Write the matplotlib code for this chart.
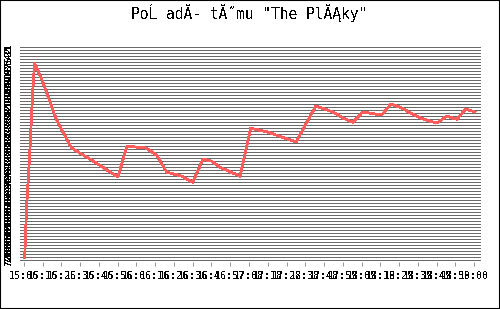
import matplotlib
matplotlib.use("Agg")
import matplotlib.pyplot as plt
from matplotlib.patches import Rectangle

# Pořadí týmu v čase (x v jednotkách popisků osy, y = pořadí)
t_pos = [0.04, 0.14, 0.32, 0.46, 0.57, 1.01, 1.74, 2.54, 3.34, 4.21,
         5.01, 5.49, 6.51, 7.08, 7.61, 8.41, 9.00, 9.55, 10.01, 10.45,
         11.52, 12.09, 13.01, 14.51, 15.56, 16.48, 17.01, 17.53, 18.06, 19.08,
         19.56, 20.05, 21.12, 22.01, 22.54, 23.08, 23.56, 24.05]
rank = [71.2, 54.5, 35.5, 16.5, 6.5, 12.8, 25.5, 34.8, 37.8, 41.2,
        44.5, 34.2, 34.8, 37.2, 42.8, 44.2, 46.2, 38.5, 39.2, 41.2,
        44.2, 28.2, 29.5, 32.8, 20.8, 22.8, 24.8, 26.2, 22.8, 23.8,
        20.2, 21.2, 24.8, 26.5, 24.2, 25.2, 21.8, 22.8]

x_labels = ["15:06", "15:16", "15:26", "15:36", "15:46", "15:56", "16:06",
            "16:16", "16:26", "16:36", "16:46", "16:57", "17:08", "17:18",
            "17:28", "17:38", "17:48", "17:59", "18:09", "18:19", "18:29",
            "18:39", "18:49", "18:50", "19:00"]
y_ranks = list(range(1, 73))

title = 'PoĹ adĂ- tĂ˝mu "The PlĂĄky"'

plt.rcParams['font.family'] = ['DejaVu Sans Mono']
plt.rcParams['text.antialiased'] = False
plt.rcParams['lines.antialiased'] = False

fig = plt.figure(figsize=(5.0, 3.09), dpi=100, facecolor='white')
ax = fig.add_axes([0.04, 0.152, 0.922, 0.702])
ax.set_facecolor('white')

ax.plot(t_pos, rank, color='#ff5c5c', linewidth=1.3, zorder=3,
        solid_joinstyle='round')

ax.set_xlim(-0.21, 24.37)
ax.set_ylim(72.8, 0.5)

ax.set_yticks(y_ranks)
ax.set_yticklabels([str(r) for r in y_ranks], rotation=90, fontsize=6.5,
                   va='center', fontweight='bold')
ax.tick_params(axis='y', length=0, pad=5, labelcolor='black')
ax.grid(axis='y', color='#6a6a6a', linewidth=0.4)

ax.set_xticks(range(len(x_labels)))
ax.set_xticklabels([])
ax.tick_params(axis='x', length=3, width=0.5, color='#6a6a6a', direction='out')

# popisky osy x: dřívější leží navrchu (překrývají se)
for i, lab in enumerate(x_labels):
    ax.annotate(lab, xy=(i, 0), xycoords=('data', 'axes fraction'),
                xytext=(0, -10), textcoords='offset points',
                ha='center', va='center', fontsize=7.2, color='black',
                annotation_clip=False, zorder=100 - i)

for s in ax.spines.values():
    s.set_visible(False)

fig.text(0.498, 1 - 13.5 / 309, title, ha='center', va='center',
         fontsize=10.5, color='black')

fig.patches.append(Rectangle((0, 0), 1, 1, transform=fig.transFigure,
                             fill=False, edgecolor='black', linewidth=1.5))

fig.savefig('out.png', dpi=100, facecolor='white')
